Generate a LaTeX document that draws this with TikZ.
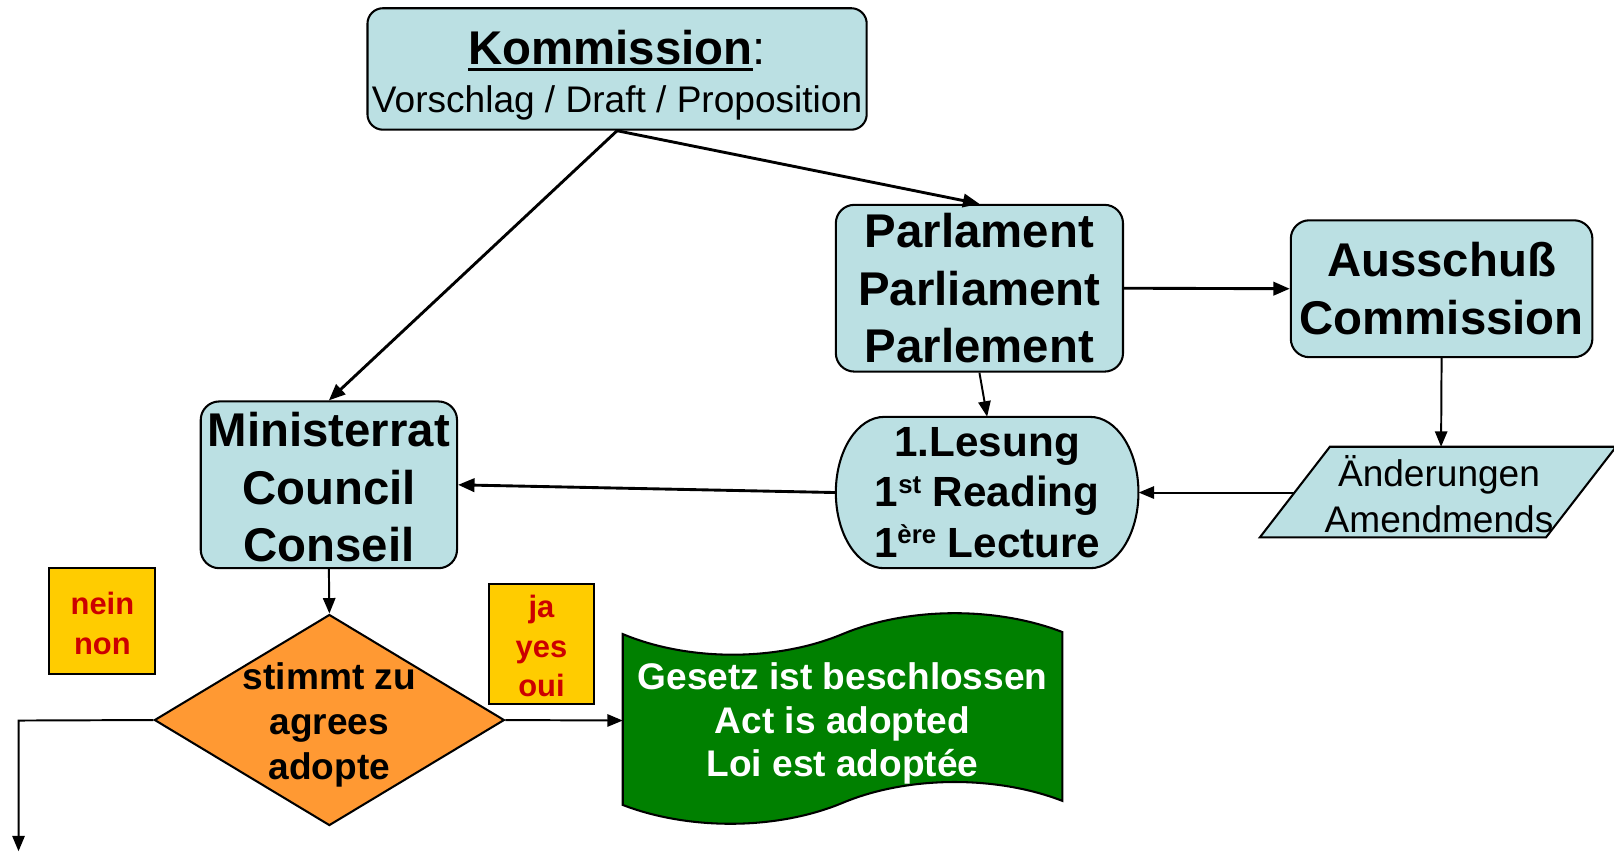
\documentclass[tikz,border=0pt]{standalone}
\usepackage{fontspec}
\setmainfont{Liberation Sans}
\usetikzlibrary{arrows.meta,shapes.geometric}
\definecolor{boxblue}{RGB}{187,224,227}
\definecolor{orfill}{RGB}{255,153,51}
\definecolor{yelfill}{RGB}{255,204,0}
\definecolor{redtext}{RGB}{204,0,0}
\definecolor{lawgreen}{RGB}{0,128,0}
\newcommand\myul[1]{\setbox0=\hbox{#1}\rlap{\rule[-7pt]{\wd0}{3pt}}\box0}
\newcommand\mysup[1]{\raisebox{13pt}{\fontsize{25}{25}\selectfont #1}}
\begin{document}
\begin{tikzpicture}[x=1pt,y=-1pt,
  bluebox/.style={draw=black, line width=2pt, fill=boxblue, rounded corners=18pt, inner sep=0pt, align=center},
  bigbold/.style={font=\fontsize{46}{56}\selectfont\bfseries},
  yellowbox/.style={draw=black, line width=2pt, fill=yelfill, inner sep=0pt, align=center, text=redtext, font=\fontsize{30}{38}\selectfont\bfseries},
  thickarrow/.style={line width=2.8pt, -{Triangle[length=16pt,width=13pt]}},
  thinarrow/.style={line width=1.9pt, -{Triangle[length=15pt,width=12pt]}},
  outline/.style={draw=black, line width=2pt}
]
\useasboundingbox (0,0) rectangle (1568,827);

% Kommission
\node[bluebox, minimum width=485pt, minimum height=118pt, rounded corners=15pt,
      font=\fontsize{36}{47}\selectfont] (komm) at (599.5,67)
  {{\fontsize{46}{47}\selectfont\bfseries\rule{0pt}{45pt}\myul{Kommission}\mdseries:}\\Vorschlag / Draft / Proposition};

% Parlament
\node[bluebox, bigbold, minimum width=279pt, minimum height=162pt] (parl) at (951.5,280)
  {Parlament\\Parliament\\Parlement};

% Ausschuss
\node[bluebox, bigbold, minimum width=293pt, minimum height=133pt] (auss) at (1400.5,280.5)
  {Ausschuß\\Commission};

% Ministerrat
\node[bluebox, bigbold, minimum width=249pt, minimum height=162pt] (minis) at (319.5,471)
  {\rule{0pt}{38pt}Ministerrat\\Council\\Conseil};

% 1. Lesung (terminator shape)
\draw[outline, fill=boxblue] (859,405) -- (1059,405)
  .. controls (1085,405) and (1106,437.9) .. (1106,478.5)
  .. controls (1106,519.1) and (1085,552) .. (1059,552)
  -- (859,552)
  .. controls (833,552) and (812,519.1) .. (812,478.5)
  .. controls (812,437.9) and (833,405) .. (859,405) -- cycle;
\node[font=\fontsize{41}{49}\selectfont\bfseries, minimum width=294pt, minimum height=147pt,
      inner sep=0pt, align=center] (lesung) at (959,478.5)
  {1.Lesung\\1\mysup{st} Reading\\1\mysup{ère} Lecture};

% Aenderungen (parallelogram)
\draw[outline, fill=boxblue] (1224,522) -- (1292,434) -- (1570,434) -- (1502,522) -- cycle;
\node[font=\fontsize{36}{44}\selectfont, align=center] (amend) at (1398,480)
  {Änderungen\\Amendmends};
\coordinate (amendtop) at (1400,434);
\coordinate (amendleft) at (1258,478.5);

% decision diamond
\node[diamond, draw=black, line width=2pt, fill=orfill, minimum width=340pt,
      minimum height=205pt, inner sep=0pt] (dia) at (320,699.5) {};
\node[font=\fontsize{36}{43.5}\selectfont\bfseries, align=center] (diatext) at (320,704)
  {stimmt zu\\agrees\\adopte};

% result (punched tape)
\draw[outline, fill=lawgreen] (605,616)
  .. controls (669,642.7) and (754.5,642.7) .. (818.5,616)
  .. controls (882.5,589.3) and (968,589.3) .. (1032,614)
  -- (1032,778)
  .. controls (968,753.3) and (882.5,753.3) .. (818.5,780)
  .. controls (754.5,806.7) and (669,806.7) .. (605,782) -- cycle;
\node[font=\fontsize{36}{42.5}\selectfont\bfseries, text=white, align=center] (gesetz) at (818.5,703)
  {Gesetz ist beschlossen\\Act is adopted\\Loi est adoptée};
\coordinate (greenleft) at (605,700);

% yes / no labels
\node[yellowbox, minimum width=103pt, minimum height=103pt] (nein) at (99.5,603.5) {\rule{0pt}{26pt}nein\\non};
\node[yellowbox, minimum width=102pt, minimum height=117pt] (ja) at (526,625.5) {\rule{0pt}{26pt}ja\\yes\\oui};

% connectors
\draw[thickarrow] (komm.south) -- (minis.north);
\draw[thickarrow] (komm.south) -- (parl.north);
\draw[thickarrow] (parl.east) -- (auss.west);
\draw[thinarrow] (auss.south) -- (amendtop);
\draw[thinarrow] (parl.south) -- (lesung.north);
\draw[thinarrow] (amendleft) -- (lesung.east);
\draw[thickarrow] (lesung.west) -- (minis.east);
\draw[thinarrow] (minis.south) -- (dia.north);
\draw[thinarrow] (dia.east) -- (greenleft);
\coordinate (corner) at (18,700);
\coordinate (bottomend) at (18,827);
\draw[thinarrow] (dia.west) -- (corner) -- (bottomend);
\end{tikzpicture}
\end{document}
